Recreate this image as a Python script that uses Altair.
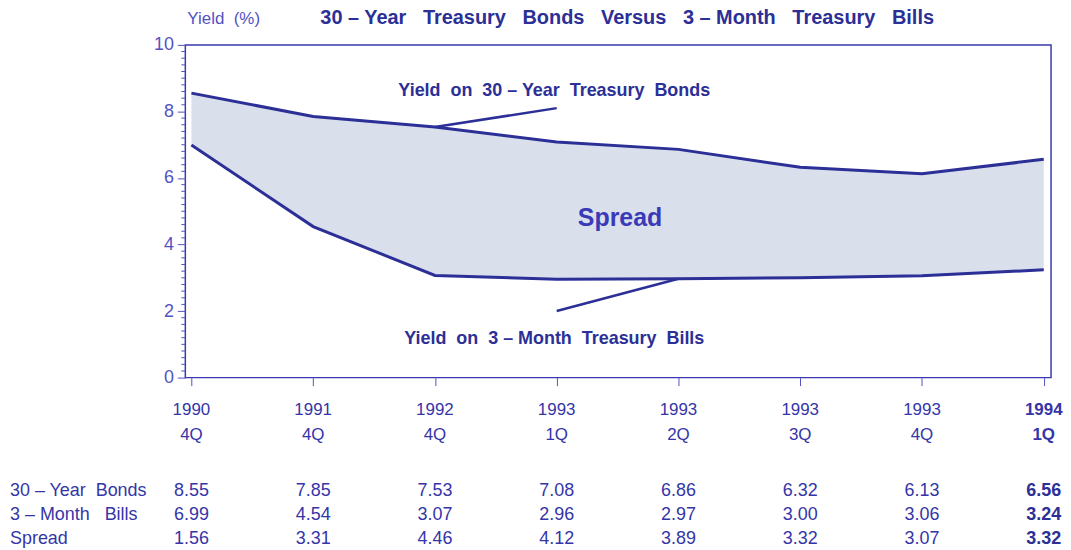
import altair as alt
import pandas as pd

NB = "\u00a0"
years = ["1990", "1991", "1992", "1993", "1993", "1993", "1993", "1994"]
qtrs = ["4Q", "4Q", "4Q", "1Q", "2Q", "3Q", "4Q", "1Q"]
bonds = [8.55, 7.85, 7.53, 7.08, 6.86, 6.32, 6.13, 6.56]
bills = [6.99, 4.54, 3.07, 2.96, 2.97, 3.00, 3.06, 3.24]
spread = [1.56, 3.31, 4.46, 4.12, 3.89, 3.32, 3.07, 3.32]
row_labels = [f"30 – Year{NB}{NB}Bonds", f"3 – Month{NB}{NB}{NB}Bills", "Spread"]
y_major = [0, 2, 4, 6, 8, 10]
y_minor = [round(k * 0.2, 1) for k in range(51) if k % 10 != 0]

df = pd.DataFrame({
    "i": list(range(len(years))),
    "year": years, "qtr": qtrs,
    "bonds": bonds, "bills": bills, "spread": spread,
})
df["bonds_s"] = [f"{v:.2f}" for v in bonds]
df["bills_s"] = [f"{v:.2f}" for v in bills]
df["spread_s"] = [f"{v:.2f}" for v in spread]

LINE = "#2b2f96"
TXT = "#3535a8"
LIGHT = "#5252c2"
FONT = "Liberation Sans"

W, H = 869, 334

xscale = alt.Scale(domain=[-0.05, 7.06], nice=False, zero=False)
yscale = alt.Scale(domain=[0, 10], nice=False, zero=False)

base = alt.Chart(df)

xenc = alt.X("i:Q", scale=xscale,
             axis=alt.Axis(values=list(range(8)), labels=False, tickSize=8,
                           domain=False, grid=False, title=None,
                           tickColor=LIGHT, tickWidth=1))

area = base.mark_area(color="#d9e0ec", opacity=1).encode(
    x=xenc,
    y=alt.Y("bills:Q", scale=yscale,
            axis=alt.Axis(values=y_major, tickSize=8, grid=False, domain=False,
                          labelFontSize=18, labelColor=LIGHT, labelFont=FONT,
                          labelPadding=4, tickColor=LIGHT, title=None)),
    y2="bonds:Q",
)

minor = alt.Chart(pd.DataFrame({"v": y_minor})).mark_rule(
    color=LIGHT, strokeWidth=1).encode(
    y=alt.Y("v:Q", scale=yscale), x=alt.value(-4), x2=alt.value(0))

line_b = base.mark_line(color=LINE, strokeWidth=3).encode(
    x=alt.X("i:Q", scale=xscale), y=alt.Y("bonds:Q", scale=yscale))
line_s = base.mark_line(color=LINE, strokeWidth=3).encode(
    x=alt.X("i:Q", scale=xscale), y=alt.Y("bills:Q", scale=yscale))

# leader lines and annotations
lead = pd.DataFrame({"x": [3.0, 3.0], "y": [8.1, 2.0], "x2": [2.0, 4.0], "y2": [7.53, 2.97]})
leaders = alt.Chart(lead).mark_rule(color=LINE, strokeWidth=2.5).encode(
    x=alt.X("x:Q", scale=xscale), y=alt.Y("y:Q", scale=yscale),
    x2="x2:Q", y2="y2:Q")

ann = pd.DataFrame({
    "t": [f"Yield{NB} on{NB} 30 – Year{NB} Treasury{NB} Bonds",
          f"Yield{NB} on{NB} 3 – Month{NB} Treasury{NB} Bills"],
    "x": [2.98, 2.98], "y": [8.62, 1.17]})
ann_text = alt.Chart(ann).mark_text(font=FONT, fontSize=18, fontWeight="bold",
                                    color=LINE).encode(
    x=alt.X("x:Q", scale=xscale), y=alt.Y("y:Q", scale=yscale), text="t:N")

spr = pd.DataFrame({"t": ["Spread"], "x": [3.52], "y": [4.79]})
spr_text = alt.Chart(spr).mark_text(font=FONT, fontSize=25, fontWeight="bold",
                                    color="#3a3ab8").encode(
    x=alt.X("x:Q", scale=xscale), y=alt.Y("y:Q", scale=yscale), text="t:N")

ytitle = alt.Chart(pd.DataFrame({"t": [f"Yield{NB} (%)"]})).mark_text(
    font=FONT, fontSize=17, color=LIGHT, align="left", baseline="middle").encode(
    x=alt.value(2), y=alt.value(-26), text="t:N")

# x labels
def xlab(field, ypix, weight="normal", flt=None):
    c = base.mark_text(font=FONT, fontSize=17, color=TXT, fontWeight=weight,
                       baseline="middle")
    if flt is not None:
        c = c.transform_filter(flt)
    return c.encode(x=alt.X("i:Q", scale=xscale), y=alt.value(ypix), text=f"{field}:N")

xl = [
    xlab("year", 367, flt="datum.i < 7"), xlab("qtr", 392, flt="datum.i < 7"),
    xlab("year", 367, "bold", "datum.i == 7"), xlab("qtr", 392, "bold", "datum.i == 7"),
]

# table
ROWY = [448, 472, 496]
def trow(field, ypix, weight="normal", flt=None, color=TXT):
    c = base.mark_text(font=FONT, fontSize=18, color=color, fontWeight=weight,
                       baseline="middle")
    if flt is not None:
        c = c.transform_filter(flt)
    return c.encode(x=alt.X("i:Q", scale=xscale), y=alt.value(ypix), text=f"{field}:N")

rows = []
for f, yp in zip(["bonds_s", "bills_s", "spread_s"], ROWY):
    rows.append(trow(f, yp, flt="datum.i < 7"))
    rows.append(trow(f, yp, "bold", "datum.i == 7", color=LINE))

labs = []
for t, yp in zip(row_labels, ROWY):
    labs.append(alt.Chart(pd.DataFrame({"t": [t]})).mark_text(
        font=FONT, fontSize=18, color=TXT, align="left", baseline="middle").encode(
        x=alt.value(-176), y=alt.value(yp), text="t:N"))

S3 = NB + NB + NB
title_txt = (f"30 – Year{S3}Treasury{S3}Bonds{S3}Versus{S3}3 – Month{S3}"
             f"Treasury{S3}Bills")

chart = alt.layer(area, minor, line_b, line_s, leaders, ann_text, spr_text, ytitle,
                  *xl, *rows, *labs).properties(
    width=W, height=H,
    autosize=alt.AutoSizeParams(type="none"),
    padding={"left": 178, "top": 36, "right": 12, "bottom": 172},
    title=alt.TitleParams(title_txt, font=FONT, fontSize=20, fontWeight="bold",
                          color=LINE, anchor="middle", offset=0, dy=18, dx=9,
                          frame="group"),
).configure(background="white").configure_view(stroke="#3a3ab0", strokeWidth=1.5)

chart.save("out.html", embed_options={"renderer": "svg", "actions": False})
